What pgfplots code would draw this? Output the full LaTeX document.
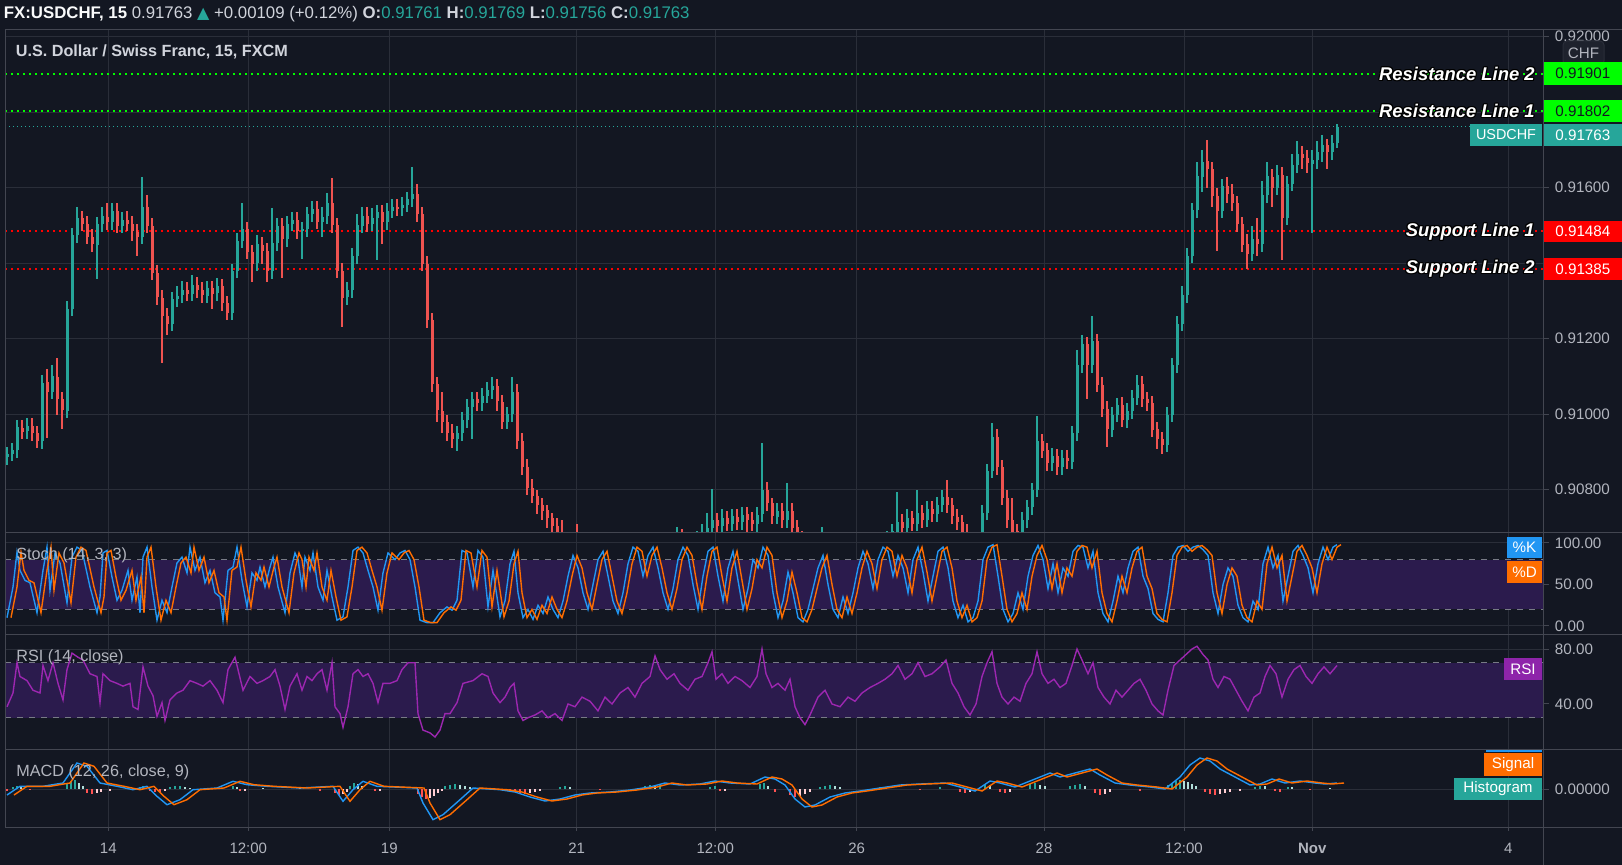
\documentclass[border=0pt]{standalone}
\usepackage{fontspec}
\setmainfont{Liberation Sans}
\newfontfamily\dejavu{DejaVu Sans}
\usepackage{pgfplots}
\pgfplotsset{compat=1.18}
\usepackage{pgfplotstable}
\definecolor{bg}{HTML}{131722}
\definecolor{gridc}{HTML}{2A2E39}
\definecolor{framec}{HTML}{434651}
\definecolor{txt}{HTML}{B2B5BE}
\definecolor{txtb}{HTML}{D1D4DC}
\definecolor{upc}{HTML}{26A69A}
\definecolor{dnc}{HTML}{EF5350}
\definecolor{resc}{HTML}{00FF00}
\definecolor{supc}{HTML}{FF0000}
\definecolor{kc}{HTML}{2196F3}
\definecolor{dc}{HTML}{FF6D00}
\definecolor{rsic}{HTML}{9C27B0}
\definecolor{rsibox}{HTML}{8E24AA}
\definecolor{bandc}{HTML}{2B1B4D}
\definecolor{dashc}{HTML}{787B86}
\definecolor{histup}{HTML}{26A69A}
\definecolor{histupl}{HTML}{B2DFDB}
\definecolor{histdn}{HTML}{FF5252}
\definecolor{histdnl}{HTML}{FFCDD2}
\definecolor{chfbox}{HTML}{1E222D}

\pgfplotstableread{
x o h l c
7 0.90888 0.90915 0.90868 0.90895
12 0.90895 0.90925 0.90875 0.90905
17 0.90905 0.90985 0.90885 0.90965
22 0.90965 0.90985 0.90935 0.90955
27 0.90955 0.90990 0.90935 0.90970
32 0.90970 0.90990 0.90930 0.90950
37 0.90950 0.90970 0.90910 0.90930
42 0.90930 0.91105 0.90910 0.91085
47 0.91085 0.91120 0.90936 0.91060
52 0.91060 0.91130 0.91040 0.91100
57 0.91100 0.91150 0.91000 0.91040
62 0.91040 0.91060 0.90960 0.91010
67 0.91010 0.91300 0.90990 0.91280
72 0.91280 0.91495 0.91260 0.91475
77 0.91475 0.91550 0.91455 0.91520
82 0.91520 0.91540 0.91485 0.91505
87 0.91505 0.91525 0.91450 0.91470
92 0.91470 0.91490 0.91430 0.91450
97 0.91450 0.91525 0.91360 0.91505
102 0.91505 0.91550 0.91485 0.91525
107 0.91525 0.91560 0.91490 0.91510
112 0.91510 0.91560 0.91490 0.91540
117 0.91540 0.91560 0.91480 0.91500
122 0.91500 0.91535 0.91480 0.91515
127 0.91515 0.91540 0.91485 0.91505
132 0.91505 0.91525 0.91460 0.91485
137 0.91485 0.91505 0.91420 0.91470
142 0.91470 0.91628 0.91450 0.91550
147 0.91550 0.91580 0.91480 0.91500
152 0.91500 0.91520 0.91355 0.91375
157 0.91375 0.91395 0.91290 0.91310
162 0.91310 0.91330 0.91135 0.91260
167 0.91260 0.91280 0.91210 0.91240
172 0.91240 0.91325 0.91220 0.91305
177 0.91305 0.91340 0.91285 0.91315
182 0.91315 0.91355 0.91295 0.91330
187 0.91330 0.91350 0.91300 0.91320
192 0.91320 0.91370 0.91300 0.91345
197 0.91345 0.91365 0.91310 0.91330
202 0.91330 0.91350 0.91295 0.91315
207 0.91315 0.91355 0.91295 0.91335
212 0.91335 0.91355 0.91280 0.91320
217 0.91320 0.91360 0.91300 0.91340
222 0.91340 0.91360 0.91275 0.91295
227 0.91295 0.91315 0.91250 0.91270
232 0.91270 0.91400 0.91250 0.91380
237 0.91380 0.91480 0.91360 0.91460
242 0.91460 0.91560 0.91440 0.91490
247 0.91490 0.91510 0.91410 0.91430
252 0.91430 0.91450 0.91350 0.91400
257 0.91400 0.91475 0.91380 0.91450
262 0.91450 0.91470 0.91400 0.91435
267 0.91435 0.91455 0.91350 0.91380
272 0.91380 0.91546 0.91360 0.91455
277 0.91455 0.91520 0.91435 0.91500
282 0.91500 0.91520 0.91360 0.91465
287 0.91465 0.91525 0.91445 0.91505
292 0.91505 0.91535 0.91485 0.91515
297 0.91515 0.91535 0.91465 0.91485
302 0.91485 0.91510 0.91410 0.91490
307 0.91490 0.91550 0.91470 0.91530
312 0.91530 0.91565 0.91510 0.91545
317 0.91545 0.91565 0.91490 0.91510
322 0.91510 0.91550 0.91470 0.91525
327 0.91525 0.91586 0.91505 0.91560
332 0.91560 0.91626 0.91480 0.91500
337 0.91500 0.91520 0.91360 0.91380
342 0.91380 0.91400 0.91231 0.91310
347 0.91310 0.91350 0.91290 0.91330
352 0.91330 0.91440 0.91310 0.91420
357 0.91420 0.91530 0.91400 0.91500
362 0.91500 0.91550 0.91480 0.91525
367 0.91525 0.91550 0.91485 0.91505
372 0.91505 0.91545 0.91485 0.91520
377 0.91520 0.91555 0.91410 0.91535
382 0.91535 0.91555 0.91450 0.91510
387 0.91510 0.91560 0.91490 0.91540
392 0.91540 0.91570 0.91520 0.91550
397 0.91550 0.91570 0.91525 0.91545
402 0.91545 0.91575 0.91525 0.91555
407 0.91555 0.91590 0.91535 0.91570
412 0.91570 0.91655 0.91550 0.91585
417 0.91585 0.91610 0.91510 0.91530
422 0.91530 0.91550 0.91380 0.91400
427 0.91400 0.91420 0.91230 0.91250
432 0.91250 0.91270 0.91060 0.91080
437 0.91080 0.91100 0.90980 0.91010
442 0.91010 0.91060 0.90950 0.90980
447 0.90980 0.91000 0.90930 0.90950
452 0.90950 0.90975 0.90910 0.90935
457 0.90935 0.90970 0.90905 0.90950
462 0.90950 0.91005 0.90930 0.90985
467 0.90985 0.91040 0.90965 0.91020
472 0.91020 0.91060 0.90935 0.91040
477 0.91040 0.91060 0.91010 0.91030
482 0.91030 0.91070 0.91010 0.91050
487 0.91050 0.91085 0.91030 0.91065
492 0.91065 0.91100 0.91040 0.91075
497 0.91075 0.91095 0.91010 0.91035
502 0.91035 0.91050 0.90960 0.90980
507 0.90980 0.91020 0.90960 0.91000
512 0.91000 0.91100 0.90980 0.91060
517 0.91060 0.91080 0.90910 0.90930
522 0.90930 0.90950 0.90840 0.90860
527 0.90860 0.90880 0.90785 0.90805
532 0.90805 0.90830 0.90765 0.90785
537 0.90785 0.90800 0.90735 0.90760
542 0.90760 0.90780 0.90720 0.90745
547 0.90745 0.90760 0.90700 0.90725
552 0.90725 0.90740 0.90680 0.90705
557 0.90705 0.90725 0.90660 0.90685
562 0.90685 0.90720 0.90640 0.90665
567 0.90665 0.90680 0.90630 0.90650
572 0.90650 0.90670 0.90620 0.90640
577 0.90640 0.90710 0.90610 0.90630
582 0.90630 0.90660 0.90610 0.90635
587 0.90635 0.90655 0.90600 0.90620
592 0.90620 0.90640 0.90590 0.90610
597 0.90610 0.90645 0.90590 0.90625
602 0.90625 0.90645 0.90595 0.90615
607 0.90615 0.90635 0.90580 0.90600
612 0.90600 0.90635 0.90580 0.90615
617 0.90615 0.90640 0.90595 0.90620
622 0.90620 0.90640 0.90585 0.90605
627 0.90605 0.90625 0.90575 0.90595
632 0.90595 0.90625 0.90575 0.90605
637 0.90605 0.90630 0.90585 0.90610
642 0.90610 0.90630 0.90580 0.90600
647 0.90600 0.90635 0.90580 0.90615
652 0.90615 0.90645 0.90595 0.90625
657 0.90625 0.90645 0.90595 0.90615
662 0.90615 0.90650 0.90595 0.90630
667 0.90630 0.90665 0.90610 0.90645
672 0.90645 0.90680 0.90625 0.90660
677 0.90660 0.90700 0.90640 0.90675
682 0.90675 0.90695 0.90645 0.90665
687 0.90665 0.90685 0.90630 0.90650
692 0.90650 0.90680 0.90630 0.90660
697 0.90660 0.90690 0.90640 0.90670
702 0.90670 0.90710 0.90650 0.90685
707 0.90685 0.90740 0.90665 0.90700
712 0.90700 0.90804 0.90680 0.90720
717 0.90720 0.90740 0.90685 0.90705
722 0.90705 0.90750 0.90685 0.90725
727 0.90725 0.90745 0.90690 0.90710
732 0.90710 0.90750 0.90690 0.90730
737 0.90730 0.90750 0.90695 0.90715
742 0.90715 0.90755 0.90695 0.90735
747 0.90735 0.90755 0.90690 0.90720
752 0.90720 0.90740 0.90690 0.90710
757 0.90710 0.90755 0.90690 0.90735
762 0.90735 0.90923 0.90715 0.90800
767 0.90800 0.90820 0.90745 0.90765
772 0.90765 0.90780 0.90710 0.90730
777 0.90730 0.90765 0.90710 0.90745
782 0.90745 0.90765 0.90700 0.90720
787 0.90720 0.90817 0.90700 0.90745
792 0.90745 0.90765 0.90680 0.90700
797 0.90700 0.90720 0.90650 0.90670
802 0.90670 0.90690 0.90635 0.90655
807 0.90655 0.90675 0.90620 0.90640
812 0.90640 0.90660 0.90610 0.90630
817 0.90630 0.90670 0.90610 0.90650
822 0.90650 0.90700 0.90630 0.90665
827 0.90665 0.90685 0.90620 0.90640
832 0.90640 0.90660 0.90605 0.90625
837 0.90625 0.90645 0.90590 0.90610
842 0.90610 0.90630 0.90585 0.90605
847 0.90605 0.90635 0.90585 0.90615
852 0.90615 0.90635 0.90580 0.90600
857 0.90600 0.90630 0.90580 0.90610
862 0.90610 0.90640 0.90590 0.90620
867 0.90620 0.90650 0.90600 0.90630
872 0.90630 0.90650 0.90605 0.90625
877 0.90625 0.90660 0.90605 0.90640
882 0.90640 0.90675 0.90620 0.90655
887 0.90655 0.90690 0.90635 0.90670
892 0.90670 0.90710 0.90650 0.90690
897 0.90690 0.90794 0.90670 0.90715
902 0.90715 0.90735 0.90680 0.90700
907 0.90700 0.90750 0.90680 0.90725
912 0.90725 0.90745 0.90690 0.90710
917 0.90710 0.90799 0.90690 0.90740
922 0.90740 0.90760 0.90700 0.90720
927 0.90720 0.90770 0.90700 0.90750
932 0.90750 0.90770 0.90715 0.90735
937 0.90735 0.90780 0.90715 0.90760
942 0.90760 0.90800 0.90740 0.90780
947 0.90780 0.90826 0.90740 0.90760
952 0.90760 0.90780 0.90710 0.90730
957 0.90730 0.90750 0.90695 0.90715
962 0.90715 0.90735 0.90670 0.90690
967 0.90690 0.90710 0.90640 0.90660
972 0.90660 0.90680 0.90625 0.90645
977 0.90645 0.90675 0.90625 0.90655
982 0.90655 0.90760 0.90635 0.90740
987 0.90740 0.90870 0.90720 0.90850
992 0.90850 0.90976 0.90830 0.90940
997 0.90940 0.90960 0.90840 0.90860
1002 0.90860 0.90880 0.90760 0.90780
1007 0.90780 0.90800 0.90700 0.90720
1012 0.90720 0.90780 0.90670 0.90690
1017 0.90690 0.90710 0.90660 0.90680
1022 0.90680 0.90740 0.90660 0.90720
1027 0.90720 0.90775 0.90700 0.90755
1032 0.90755 0.90820 0.90735 0.90800
1037 0.90800 0.90995 0.90780 0.90930
1042 0.90930 0.90950 0.90885 0.90905
1047 0.90905 0.90925 0.90850 0.90870
1052 0.90870 0.90910 0.90850 0.90890
1057 0.90890 0.90910 0.90840 0.90860
1062 0.90860 0.90905 0.90840 0.90885
1067 0.90885 0.90905 0.90855 0.90875
1072 0.90875 0.90970 0.90855 0.90950
1077 0.90950 0.91170 0.90930 0.91130
1082 0.91130 0.91210 0.91110 0.91185
1087 0.91185 0.91205 0.91040 0.91130
1092 0.91130 0.91260 0.91110 0.91195
1097 0.91195 0.91215 0.91060 0.91080
1102 0.91080 0.91100 0.90995 0.91015
1107 0.91015 0.91035 0.90913 0.90960
1112 0.90960 0.91020 0.90940 0.91000
1117 0.91000 0.91045 0.90980 0.91025
1122 0.91025 0.91045 0.90965 0.90985
1127 0.90985 0.91030 0.90965 0.91010
1132 0.91010 0.91065 0.90990 0.91045
1137 0.91045 0.91105 0.91025 0.91080
1142 0.91080 0.91100 0.91020 0.91040
1147 0.91040 0.91060 0.91010 0.91030
1152 0.91030 0.91050 0.90940 0.90960
1157 0.90960 0.90980 0.90910 0.90935
1162 0.90935 0.90955 0.90895 0.90920
1167 0.90920 0.91020 0.90900 0.91000
1172 0.91000 0.91150 0.90980 0.91130
1177 0.91130 0.91260 0.91110 0.91240
1182 0.91240 0.91340 0.91220 0.91315
1187 0.91315 0.91440 0.91295 0.91420
1192 0.91420 0.91560 0.91400 0.91540
1197 0.91540 0.91670 0.91520 0.91630
1202 0.91630 0.91700 0.91590 0.91670
1207 0.91670 0.91726 0.91600 0.91650
1212 0.91650 0.91670 0.91550 0.91580
1217 0.91580 0.91600 0.91435 0.91540
1222 0.91540 0.91625 0.91520 0.91605
1227 0.91605 0.91630 0.91560 0.91585
1232 0.91585 0.91610 0.91540 0.91560
1237 0.91560 0.91580 0.91485 0.91505
1242 0.91505 0.91525 0.91430 0.91450
1247 0.91450 0.91480 0.91387 0.91425
1252 0.91425 0.91500 0.91405 0.91465
1257 0.91465 0.91520 0.91420 0.91450
1262 0.91450 0.91620 0.91430 0.91580
1267 0.91580 0.91670 0.91560 0.91630
1272 0.91630 0.91650 0.91550 0.91600
1277 0.91600 0.91660 0.91580 0.91635
1282 0.91635 0.91655 0.91410 0.91520
1287 0.91520 0.91630 0.91500 0.91610
1292 0.91610 0.91690 0.91590 0.91660
1297 0.91660 0.91725 0.91640 0.91690
1302 0.91690 0.91710 0.91650 0.91680
1307 0.91680 0.91700 0.91640 0.91665
1312 0.91665 0.91700 0.91480 0.91675
1317 0.91675 0.91725 0.91650 0.91695
1322 0.91695 0.91740 0.91670 0.91715
1327 0.91715 0.91730 0.91650 0.91695
1332 0.91695 0.91740 0.91675 0.91720
1337 0.91720 0.91769 0.91705 0.91763
}\candles

\pgfplotstableread{
x k
7 10
13 47
17 89
20 67
25 55
30 52
37 16
43 67
47 95
50 43
55 88
60 76
67 28
72 83
77 95
82 91
90 47
97 16
100 35
103 88
107 91
112 59
117 31
122 43
128 67
132 31
137 59
140 16
143 83
147 95
152 47
157 7
162 31
167 16
172 47
177 76
182 83
187 64
190 95
195 67
200 83
205 52
210 67
215 40
220 35
223 7
228 67
233 71
237 95
242 55
247 23
252 64
257 55
260 71
265 47
270 71
273 83
278 47
285 16
290 64
295 88
298 80
302 47
305 83
310 67
313 88
318 47
323 31
327 67
332 35
337 7
343 11
348 47
353 91
358 95
363 88
368 67
373 47
378 19
383 64
388 88
395 80
400 88
405 91
410 80
415 47
420 7
427 4
433 4
440 16
447 23
452 19
457 31
462 91
467 88
473 47
478 91
483 83
488 23
493 67
500 11
505 30
510 75
514 90
518 40
523 10
528 20
533 8
538 25
543 15
548 35
553 20
558 10
563 30
568 60
573 85
578 70
583 40
588 20
593 50
598 80
603 90
608 60
613 30
618 15
623 40
628 75
633 95
638 90
643 60
648 85
653 95
658 70
663 40
668 20
673 45
678 80
683 95
688 85
693 50
698 20
703 60
708 90
713 95
718 60
723 30
728 70
733 90
738 55
743 20
748 45
753 80
758 70
763 95
768 85
773 40
778 10
783 30
788 65
793 40
798 10
803 5
808 20
813 45
818 70
823 85
828 50
833 20
838 10
843 35
848 15
853 40
858 70
863 90
868 75
873 45
878 80
883 95
888 90
893 60
898 85
903 70
908 40
913 80
918 95
923 65
928 30
933 60
938 90
943 95
948 70
953 30
958 10
963 25
968 5
973 10
978 30
983 80
988 95
993 98
998 60
1003 20
1008 5
1013 15
1018 40
1023 20
1028 60
1033 85
1038 97
1043 80
1048 45
1053 75
1058 40
1063 70
1068 60
1073 90
1078 97
1083 95
1088 70
1093 90
1098 40
1103 15
1108 5
1113 30
1118 60
1123 40
1128 70
1133 90
1138 95
1143 60
1148 45
1153 15
1158 8
1163 5
1168 40
1173 85
1178 95
1183 97
1188 90
1193 95
1198 97
1203 92
1208 85
1213 40
1218 15
1223 50
1228 70
1233 60
1238 25
1243 10
1248 5
1253 30
1258 20
1263 75
1268 95
1273 70
1278 85
1283 30
1288 60
1293 90
1298 97
1303 85
1308 70
1313 40
1318 75
1323 95
1328 80
1333 95
1337 98
}\stoch

\pgfplotstableread{
x r
7 38
13 48
17 70
20 60
27 57
33 50
40 48
43 68
48 57
53 70
58 55
63 43
67 65
72 77
78 74
83 72
90 62
97 60
100 41
103 62
110 57
117 55
123 53
130 55
133 38
138 36
143 67
148 53
153 46
157 31
162 41
165 28
170 43
177 48
183 50
190 57
197 55
203 53
210 57
217 50
223 41
228 65
235 74
238 65
243 50
250 60
257 55
263 57
270 60
275 65
280 53
285 36
290 53
297 62
302 50
307 60
312 57
317 62
322 65
327 50
332 70
335 38
340 33
343 23
348 38
353 62
358 65
363 60
368 62
373 55
378 41
383 55
390 55
397 57
402 65
408 70
415 70
418 33
423 21
430 19
435 16
440 21
445 33
450 33
457 41
463 55
473 57
482 62
488 60
493 48
500 41
505 45
510 52
514 55
518 35
523 28
528 30
535 32
542 35
548 30
555 33
562 28
568 40
575 38
582 45
590 42
598 35
605 45
612 40
620 48
628 52
635 45
642 55
650 60
655 75
660 65
667 58
674 62
680 55
688 50
695 58
702 60
708 70
712 78
716 58
722 62
728 55
735 60
742 57
750 52
757 60
762 80
766 62
772 52
778 55
785 50
790 58
795 38
800 30
805 25
810 32
818 45
825 50
832 40
840 38
848 45
855 42
862 48
870 52
878 55
885 58
892 62
898 68
905 58
912 62
918 70
925 60
932 62
940 67
946 72
952 55
958 48
964 38
970 32
976 40
982 60
987 70
992 78
997 55
1002 45
1008 40
1014 45
1020 42
1026 55
1032 62
1037 78
1042 62
1048 55
1054 58
1060 52
1066 55
1072 68
1077 80
1082 72
1088 62
1093 70
1098 52
1104 45
1110 40
1116 50
1122 45
1128 50
1134 55
1140 58
1146 50
1152 40
1158 35
1163 32
1168 50
1174 68
1180 72
1186 76
1192 80
1197 82
1203 76
1208 72
1213 58
1218 52
1224 60
1230 58
1236 50
1242 42
1248 35
1254 45
1260 48
1265 60
1270 68
1276 62
1282 45
1288 58
1294 65
1300 68
1306 60
1312 55
1318 62
1324 67
1330 62
1337 68
}\rsi

\pgfplotstableread{
x m
7 -6
20 2.7
43 2.7
63 6
77 26
87 22.7
100 6
117 2.7
133 -0.7
147 2.7
157 -7.3
167 -15.7
180 -10.7
193 -0.7
217 1
233 7.7
247 4.3
267 2.7
300 1
333 2.7
343 -12.3
353 -0.7
363 7.7
377 2.7
417 1
423 -14
433 -30.7
443 -25.7
460 -10.7
473 1
500 -0.7
515 -3
530 -8
545 -12
560 -10
575 -6
590 -4
610 -3
630 -1
650 2
665 6
680 4
700 5
715 8
730 6
750 5
765 12
775 10
785 4
795 -10
805 -18
815 -16
830 -8
845 -4
860 -2
880 1
900 4
920 5
945 6
960 2
975 -2
990 8
1000 6
1015 2
1035 10
1050 16
1060 12
1075 16
1090 20
1100 14
1115 6
1130 4
1150 2
1165 0
1180 12
1190 24
1200 31
1210 28
1220 20
1235 12
1250 4
1260 5
1272 10
1285 6
1300 8
1315 6
1325 5
1337 6
}\macd

\pgfplotsset{
  panel/.style={scale only axis, width=769.25pt, xmin=5, xmax=1543.5,
    anchor=north west, axis line style={draw=none},
    grid=major, major grid style={gridc, line width=0.5pt},
    xtick={108.3,248.3,389.3,576.7,715.3,856.7,1044,1184,1312.3,1508.3},
    xticklabels={}, xtick style={draw=none},
    ytick pos=right, yticklabel pos=right, tick align=outside,
    ytick style={framec, line width=0.5pt}, major tick length=2.5pt,
    yticklabel style={font=\fontsize{7.6}{9}\selectfont, text=txt, anchor=west, inner sep=0pt, xshift=3pt},
  },
  upf/.style={restrict expr to domain={\thisrow{c}-\thisrow{o}}{0:1}},
  dnf/.style={restrict expr to domain={\thisrow{c}-\thisrow{o}}{-1:-0.000001}},
  candle/.style 2 args={color=#1, draw=none, no markers, mark size=0pt, forget plot,
    error bars/y dir=both, error bars/y explicit, error bars/error mark=none,
    error bars/error mark options={draw=none, fill=none},
    error bars/error bar style={draw=#1, solid, line width=#2}},
  hist/.style={ycomb, color=#1, line width=1.4pt, mark=none, forget plot},
}

\newcommand\outlined[2]{%
  \foreach \dx/\dy in {-0.6/0,0.6/0,0/-0.6,0/0.6,-0.45/-0.45,0.45/0.45,-0.45/0.45,0.45/-0.45}{%
    \node[anchor=east, inner sep=0pt, text=black, xshift=\dx pt, yshift=\dy pt] at #1 {#2};}%
  \node[anchor=east, inner sep=0pt, text=white] at #1 {#2};}

\begin{document}
\begin{tikzpicture}
\fill[bg, use as bounding box] (0,0) rectangle (811pt,-432.5pt);

% ---------- main price pane ----------
\begin{axis}[panel, at={(2.5pt,-15pt)}, height=251.25pt,
  ymin=0.906866, ymax=0.920177,
  ytick={0.908,0.910,0.912,0.914,0.916,0.918,0.920},
  yticklabels={0.90800,0.91000,0.91200,,0.91600,,0.92000}]
  \draw[resc, line width=1pt, dash pattern=on 1pt off 2pt] (axis cs:5,0.91901) -- (axis cs:1543.5,0.91901);
  \draw[resc, line width=1pt, dash pattern=on 1pt off 2pt] (axis cs:5,0.91802) -- (axis cs:1543.5,0.91802);
  \draw[supc, line width=1pt, dash pattern=on 1pt off 2pt] (axis cs:5,0.91484) -- (axis cs:1543.5,0.91484);
  \draw[supc, line width=1pt, dash pattern=on 1pt off 2pt] (axis cs:5,0.91385) -- (axis cs:1543.5,0.91385);
  \draw[upc, line width=0.5pt, dash pattern=on 0.5pt off 1.5pt] (axis cs:5,0.91763) -- (axis cs:1543.5,0.91763);
  \addplot[upf, candle={upc}{0.55pt}] table[x=x, y expr={(\thisrow{h}+\thisrow{l})/2}, y error expr={(\thisrow{h}-\thisrow{l})/2}] {\candles};
  \addplot[dnf, candle={dnc}{0.55pt}] table[x=x, y expr={(\thisrow{h}+\thisrow{l})/2}, y error expr={(\thisrow{h}-\thisrow{l})/2}] {\candles};
  \addplot[upf, candle={upc}{1.5pt}] table[x=x, y expr={(\thisrow{o}+\thisrow{c})/2}, y error expr={max(abs(\thisrow{c}-\thisrow{o})/2,0.000012)}] {\candles};
  \addplot[dnf, candle={dnc}{1.5pt}] table[x=x, y expr={(\thisrow{o}+\thisrow{c})/2}, y error expr={max(abs(\thisrow{c}-\thisrow{o})/2,0.000012)}] {\candles};
\end{axis}

% ---------- stochastic ----------
\begin{axis}[panel, at={(2.5pt,-266.25pt)}, height=50.75pt,
  ymin=-9.64, ymax=112.65, ytick={0,50,100}, yticklabels={0.00,50.00,100.00}]
  \fill[bandc] (axis cs:5,20) rectangle (axis cs:1543.5,80);
  \draw[dashc, line width=0.5pt, dash pattern=on 3pt off 3pt] (axis cs:5,80) -- (axis cs:1543.5,80);
  \draw[dashc, line width=0.5pt, dash pattern=on 3pt off 3pt] (axis cs:5,20) -- (axis cs:1543.5,20);
  \addplot[kc, line width=0.7pt, mark=none] table[x=x, y=k] {\stoch};
  \addplot[dc, line width=0.7pt, mark=none] table[x expr={\thisrow{x}+4}, y=k] {\stoch};
\end{axis}

% ---------- RSI ----------
\begin{axis}[panel, at={(2.5pt,-317pt)}, height=57.5pt,
  ymin=7.27, ymax=90.91, ytick={40,80}, yticklabels={40.00,80.00}]
  \fill[bandc] (axis cs:5,30) rectangle (axis cs:1543.5,70);
  \draw[dashc, line width=0.5pt, dash pattern=on 3pt off 3pt] (axis cs:5,70) -- (axis cs:1543.5,70);
  \draw[dashc, line width=0.5pt, dash pattern=on 3pt off 3pt] (axis cs:5,30) -- (axis cs:1543.5,30);
  \addplot[rsic, line width=0.7pt, mark=none] table[x=x, y=r] {\rsi};
\end{axis}

% ---------- MACD ----------
\begin{axis}[panel, at={(2.5pt,-374.5pt)}, height=39pt,
  ymin=-38, ymax=40, ytick={0}, yticklabels={0.00000}]
  \addplot[hist=histup] coordinates {
    (13,2) (17,3) (67,5) (71,8) (75,9) (140,2) (143,3) (170,2) (175,3) (180,3) (233,3)
    (350,3) (354,6) (445,3) (450,4) (455,5) (560,2) (565,3) (645,3) (650,4) (660,4)
    (710,2) (715,3) (760,5) (764,6) (820,2) (825,3) (830,4) (880,2) (940,2) (985,5)
    (1030,5) (1035,6) (1070,3) (1075,4) (1080,5) (1168,4) (1172,6) (1176,8) (1180,9)
    (1255,2) (1260,3) (1288,2)};
  \addplot[hist=histupl] coordinates {
    (21,2) (79,6) (83,3) (185,2) (190,1.5) (237,2) (263,1) (300,1) (358,5) (362,3)
    (460,4) (465,3) (470,2) (475,1) (570,2) (655,3) (768,3) (835,3) (840,2) (885,2)
    (990,4) (1040,4) (1045,3) (1085,3) (1184,8) (1188,7) (1192,5) (1196,3) (1265,3)
    (1292,2) (1330,1)};
  \addplot[hist=histdn] coordinates {
    (7,-2) (30,-1) (87,-4) (92,-5) (150,-2) (155,-3) (160,-3) (240,-2) (320,-1.5)
    (335,-4) (339,-6) (375,-2) (418,-5) (422,-8) (426,-10) (510,-2) (515,-3) (520,-4)
    (525,-5) (600,-1) (720,-2) (775,-3) (790,-6) (795,-8) (920,-1) (960,-3) (965,-4)
    (1000,-3) (1005,-4) (1095,-4) (1100,-6) (1140,-2) (1205,-3) (1210,-5) (1215,-6)
    (1275,-2) (1280,-3) (1310,-1)};
  \addplot[hist=histdnl] coordinates {
    (97,-4) (101,-3) (110,-1.5) (165,-2) (245,-2) (343,-5) (347,-3) (380,-2) (430,-9)
    (434,-7) (438,-4) (442,-2) (530,-4) (535,-3) (540,-2) (725,-2) (800,-7) (805,-5)
    (810,-3) (970,-3) (1010,-3) (1105,-5) (1110,-3) (1220,-5) (1225,-4) (1230,-3) (1240,-2)};
  \addplot[kc, line width=0.7pt, mark=none] table[x=x, y=m] {\macd};
  \addplot[dc, line width=0.7pt, mark=none] table[x expr={\thisrow{x}+7}, y=m] {\macd};
\end{axis}

% ---------- frame, labels, boxes (pixel coordinates) ----------
\begin{scope}[x=0.5pt, y=-0.5pt]
  \draw[framec, line width=0.5pt] (5,30) -- (1622,30);
  \foreach \yy in {532.5,634,749,827} {\draw[framec, line width=0.5pt] (5,\yy) -- (1622,\yy);}
  \draw[framec, line width=0.5pt] (5,30) -- (5,827);
  \draw[framec, line width=0.5pt] (1543.5,30) -- (1543.5,865);
  \foreach \xx in {108.3,248.3,389.3,576.7,715.3,856.7,1044,1184,1312.3,1508.3} {\draw[framec, line width=0.5pt] (\xx,827) -- (\xx,831);}

  % top bar
  \node[anchor=west, inner sep=0pt, text=txtb, font=\fontsize{8.4}{10}\selectfont] at (3.5,14)
    {{\bfseries\color{white!88!txtb}FX:USDCHF, 15}\ 0.91763\ {\color{upc}\dejavu\fontsize{8}{9}\selectfont ▲}\ +0.00109 (+0.12\%)\ {\bfseries O:}{\color{upc}0.91761}\ {\bfseries H:}{\color{upc}0.91769}\ {\bfseries L:}{\color{upc}0.91756}\ {\bfseries C:}{\color{upc}0.91763}};
  \node[anchor=west, inner sep=0pt, text=txtb, font=\fontsize{8.1}{10}\selectfont\bfseries] at (15.5,52) {U.S. Dollar / Swiss Franc, 15, FXCM};

  % pane titles
  \node[anchor=west, inner sep=0pt, text=txt, font=\fontsize{8.1}{9}\selectfont] at (16,555) {Stoch (14, 3, 3)};
  \node[anchor=west, inner sep=0pt, text=txt, font=\fontsize{8.1}{9}\selectfont] at (16,657) {RSI (14, close)};
  \node[anchor=west, inner sep=0pt, text=txt, font=\fontsize{8.1}{9}\selectfont] at (16,772) {MACD (12, 26, close, 9)};

  % CHF box
  \filldraw[fill=chfbox, draw=gridc, rounded corners=2pt, line width=0.5pt] (1563,41) rectangle (1604,65);
  \node[text=txt, inner sep=0pt, font=\fontsize{7.6}{9}\selectfont] at (1583.5,53) {CHF};

  % line labels
  \begin{scope}[font=\fontsize{9.2}{11}\selectfont\bfseries\itshape]
    \outlined{(1535,73.7)}{Resistance Line 2}
    \outlined{(1535,111)}{Resistance Line 1}
    \outlined{(1535,231.5)}{Support Line 1}
    \outlined{(1535,268.8)}{Support Line 2}
  \end{scope}

  \begin{scope}[every node/.style={anchor=west, inner sep=0pt, font=\fontsize{7.6}{9}\selectfont}]
    \fill[resc] (1544,62.3) rectangle (1622,85);
    \node[text=bg] at (1555,73.7) {0.91901};
    \fill[resc] (1544,100) rectangle (1622,122);
    \node[text=bg] at (1555,111) {0.91802};
    \fill[upc] (1544,124) rectangle (1622,146);
    \node[text=white] at (1555,135) {0.91763};
    \fill[upc] (1470,124) rectangle (1542,146);
    \node[text=white, anchor=center, font=\fontsize{7.2}{9}\selectfont] at (1506,135) {USDCHF};
    \fill[supc] (1544,220.7) rectangle (1622,242.3);
    \node[text=white] at (1555,231.5) {0.91484};
    \fill[supc] (1544,257.7) rectangle (1622,280);
    \node[text=white] at (1555,268.8) {0.91385};

    \fill[kc] (1507,537) rectangle (1542,558);
    \node[text=white, anchor=center] at (1524.5,547.5) {\%K};
    \fill[dc] (1507,561) rectangle (1542,583);
    \node[text=white, anchor=center] at (1524.5,572) {\%D};
    \fill[rsibox] (1504,658) rectangle (1542,680);
    \node[text=white, anchor=center] at (1523,669) {RSI};
    \fill[kc] (1486,749.5) rectangle (1542,752);
    \fill[dc] (1484,753) rectangle (1542,776);
    \node[text=white, anchor=center] at (1513,764.5) {Signal};
    \fill[upc] (1454,778) rectangle (1542,800);
    \node[text=white, anchor=center] at (1498,789) {Histogram};
  \end{scope}

  % time labels
  \begin{scope}[every node/.style={inner sep=0pt, text=txt, font=\fontsize{7.5}{9}\selectfont}]
    \node at (108.3,848) {14};
    \node at (248.3,848) {12:00};
    \node at (389.3,848) {19};
    \node at (576.7,848) {21};
    \node at (715.3,848) {12:00};
    \node at (856.7,848) {26};
    \node at (1044,848) {28};
    \node at (1184,848) {12:00};
    \node[font=\fontsize{7.5}{9}\selectfont\bfseries] at (1312.3,848) {Nov};
    \node at (1508.3,848) {4};
  \end{scope}
\end{scope}
\end{tikzpicture}
\end{document}
